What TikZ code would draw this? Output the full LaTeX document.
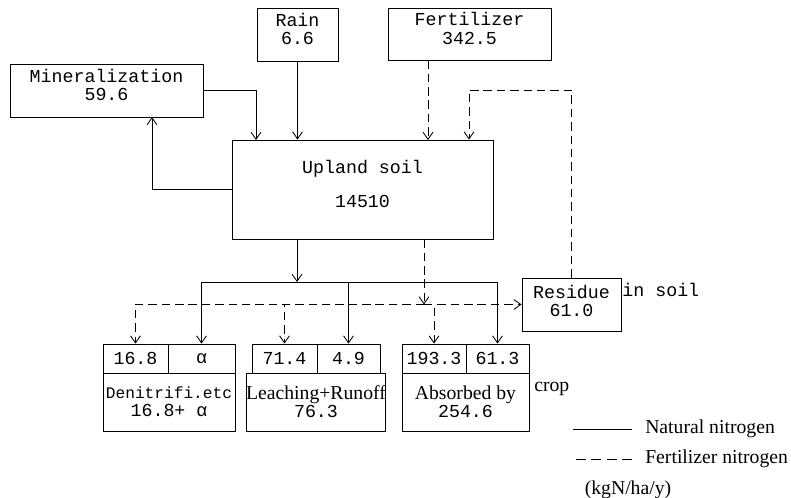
\documentclass[tikz,border=0pt]{standalone}
\usepackage{fontspec}
\setmainfont{Liberation Serif}
\newfontfamily\typewr{Liberation Mono}
\usetikzlibrary{arrows.meta, positioning}
\newdimen\pxu \pxu=0.025cm

\begin{document}
\begin{tikzpicture}[
        x=0.025cm, y=-0.025cm,
        box/.style={draw, line width=0.6pt, inner sep=0pt, align=center, font=\typewr\fontsize{13}{13}\selectfont},
        topbox/.style={box, text depth=8pt},
        cell/.style={box, minimum height=29\pxu},
        lower/.style={box, minimum height=58\pxu},
        note/.style={inner sep=0pt, font=\fontsize{14}{14}\selectfont},
        natural/.style={-{Straight Barb[length=5pt, width=7pt]}, line width=0.6pt},
        fertil/.style={natural, dash pattern=on 6pt off 3.5pt}
    ]
        \useasboundingbox (0,0) rectangle (791,498);

        \node[topbox, minimum width=193\pxu, minimum height=53\pxu] (mineral) at (106.5,90.5) {Mineralization\\59.6};
        \node[topbox, minimum width=81\pxu,  minimum height=53\pxu] (rain)    at (297.5,34.5) {Rain\\6.6};
        \node[topbox, minimum width=163\pxu, minimum height=52\pxu] (fert)    at (469.5,34)   {Fertilizer\\342.5};
        \node[topbox, minimum width=261\pxu, minimum height=99\pxu] (upland)  at (362.5,189.5) {Upland soil\\[11pt]14510};
        \node[topbox, text depth=5pt, minimum width=99\pxu, minimum height=53\pxu] (residue) at (571.5,304.5) {Residue\\61.0};
        \node[box, draw=none, anchor=west] (insoil) at (622,290) {in soil};

        % Losses
        \node[cell, minimum width=65\pxu] (denL) at (135.5,358.5) {16.8};
        \node[cell, minimum width=67\pxu] (denR) at (201.5,358.5) {α};
        \node[lower, minimum width=132\pxu] (denB) at (169,402) {{\fontsize{11.5}{13}\selectfont Denitrifi.etc}\\16.8+ α};

        \node[cell, minimum width=65\pxu] (leaL) at (284.5,358.5) {71.4};
        \node[cell, minimum width=63\pxu] (leaR) at (348.5,358.5) {4.9};
        \node[lower, minimum width=128\pxu] (leaB) at (316,402) {{\rmfamily\fontsize{14}{13}\selectfont Leaching+Runoff}\\76.3};

        \node[cell, minimum width=64\pxu] (absL) at (434,358.5) {193.3};
        \node[cell, minimum width=63\pxu] (absR) at (497.5,358.5) {61.3};
        \node[lower, minimum width=127\pxu] (absB) at (465.5,402) {{\rmfamily\fontsize{14}{13}\selectfont Absorbed by}\\254.6};
        \node[note, anchor=west] (crop) at (534,389) {crop};

        \coordinate (minin)  at (256,140);
        \coordinate (minout) at (152,117);
        \coordinate (fertin) at (428,140);
        \coordinate (resin)  at (469,90);
        \coordinate (nsplit) at (297,282);
        \coordinate (fsplit) at (424,304.5);

        \draw[natural] (mineral.east) -| (minin);
        \draw[natural] (rain) -- (rain |- upland.north);
        \draw[fertil] (fert.south -| fertin) -- (fertin);
        \draw[natural] (upland.west) -| (minout);
        \draw[fertil] (residue.north) |- (resin) -- (upland.north -| resin);

        \draw[natural] (upland.south -| nsplit) -- (nsplit);
        \draw[natural] (nsplit) -| (denR);
        \draw[natural] (nsplit) -| (leaR);
        \draw[natural] (nsplit) -| (absR);

        \draw[fertil] (upland.south -| fsplit) -- (fsplit);
        \draw[fertil] (fsplit) -| (denL);
        \draw[fertil] (fsplit) -| (leaL);
        \draw[fertil] (fsplit) -| (absL);
        \draw[fertil] (fsplit) -- (residue.west);

        % Legend
        \node[note, anchor=west] (natleg)  at (645,429) {Natural nitrogen};
        \node[note, anchor=west] (fertleg) at (645,459) {Fertilizer nitrogen};
        \node[note] (unit) at (628,490) {(kgN/ha/y)};
        \draw[line width=0.6pt] ([xshift=-13\pxu]natleg.west) -- ++(-59,0);
        \draw[line width=0.6pt, dash pattern=on 7pt off 4pt] ([xshift=-13\pxu]fertleg.west) -- ++(-59,0);
    \end{tikzpicture}
\end{document}
